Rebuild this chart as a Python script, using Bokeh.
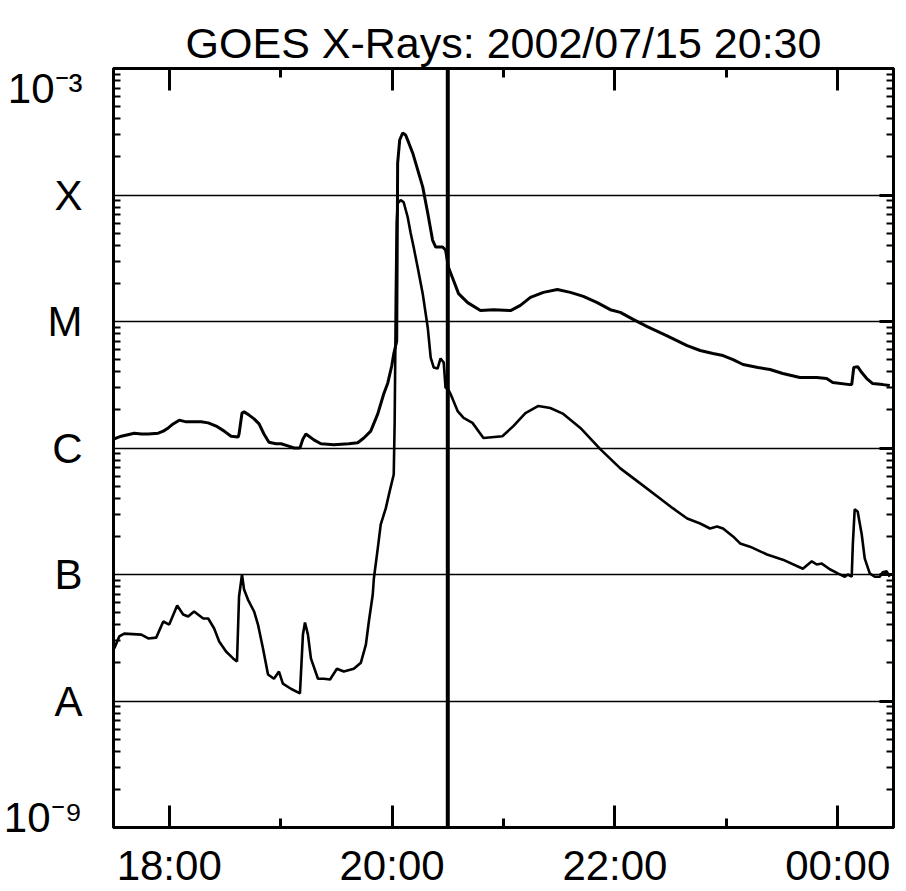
from datetime import datetime, timedelta

from bokeh.plotting import figure
from bokeh.models import (FixedTicker, LogAxis, DatetimeAxis, Span,
                          DatetimeTickFormatter, Range1d)
from bokeh.embed import file_html
from bokeh.resources import INLINE

# ---------------- data ----------------
DAY = datetime(2002, 7, 15)

# GOES long channel (1-8 A), minutes after 2002-07-15 00:00 UT, flux W/m^2
long_minutes = [1050.4, 1054.2, 1061.2, 1065.0, 1068.7, 1074.1, 1076.8, 1079.5, 1082.1, 1085.4,
                1089.1, 1097.2, 1101.0, 1105.3, 1109.6, 1113.3, 1117.1, 1117.6, 1119.2, 1120.3,
                1123.0, 1125.7, 1128.4, 1131.0, 1133.7, 1137.5, 1140.2, 1143.9, 1147.2, 1150.4,
                1152.0, 1153.6, 1157.9, 1161.7, 1168.7, 1176.7, 1181.5, 1184.8, 1188.5, 1192.3,
                1195.5, 1197.7, 1199.8, 1200.9, 1202.5, 1203.0, 1204.1, 1205.7, 1207.3, 1209.0,
                1211.1, 1213.8, 1216.5, 1219.2, 1221.8, 1223.5, 1227.2, 1228.8, 1230.4, 1233.1,
                1235.8, 1240.7, 1247.6, 1254.6, 1263.8, 1269.1, 1274.5, 1281.5, 1289.0, 1296.0,
                1303.0, 1310.5, 1317.5, 1322.9, 1329.8, 1337.4, 1348.1, 1358.9, 1365.9, 1372.8,
                1378.2, 1383.6, 1389.0, 1397.0, 1403.5, 1410.4, 1419.6, 1428.7, 1434.0, 1437.3,
                1446.4, 1447.5, 1448.6, 1450.7, 1452.9, 1455.6, 1458.8, 1464.2, 1468.0]
long_flux = [1.18e-6, 1.24e-6, 1.31e-6, 1.29e-6, 1.29e-6, 1.31e-6, 1.36e-6, 1.44e-6, 1.55e-6, 1.66e-6,
             1.61e-6, 1.61e-6, 1.58e-6, 1.49e-6, 1.36e-6, 1.24e-6, 1.22e-6, 1.29e-6, 1.89e-6, 1.93e-6,
             1.82e-6, 1.70e-6, 1.55e-6, 1.29e-6, 1.11e-6, 1.08e-6, 1.08e-6, 1.04e-6, 1.00e-6, 1.00e-6,
             1.18e-6, 1.29e-6, 1.16e-6, 1.08e-6, 1.06e-6, 1.08e-6, 1.10e-6, 1.20e-6, 1.36e-6, 1.86e-6,
             2.67e-6, 3.27e-6, 4.45e-6, 5.54e-6, 7.0e-6, 1.79e-4, 2.72e-4, 3.09e-4, 2.98e-4, 2.58e-4,
             2.15e-4, 1.58e-4, 1.16e-4, 7.2e-5, 4.4e-5, 3.88e-5, 3.88e-5, 3.67e-5, 2.67e-5, 2.11e-5,
             1.66e-5, 1.41e-5, 1.22e-5, 1.24e-5, 1.22e-5, 1.34e-5, 1.55e-5, 1.70e-5, 1.79e-5, 1.70e-5,
             1.58e-5, 1.41e-5, 1.24e-5, 1.18e-5, 1.04e-5, 9.1e-6, 7.7e-6, 6.45e-6, 5.9e-6, 5.58e-6,
             5.38e-6, 5.0e-6, 4.57e-6, 4.33e-6, 4.17e-6, 3.88e-6, 3.61e-6, 3.61e-6, 3.54e-6, 3.29e-6,
             3.17e-6, 3.17e-6, 4.33e-6, 4.4e-6, 3.95e-6, 3.54e-6, 3.23e-6, 3.17e-6, 3.12e-6]

# GOES short channel (0.5-4 A)
short_minutes = [1050.4, 1053.1, 1055.8, 1065.0, 1068.7, 1073.0, 1076.8, 1080.0, 1084.3, 1087.5,
                 1090.2, 1093.4, 1098.3, 1101.0, 1104.2, 1106.9, 1110.6, 1114.4, 1116.5, 1117.6,
                 1119.2, 1120.3, 1122.4, 1125.7, 1127.8, 1130.5, 1133.2, 1136.4, 1139.1, 1141.2,
                 1145.5, 1150.4, 1152.0, 1153.1, 1154.7, 1156.3, 1160.1, 1163.3, 1166.6, 1170.3,
                 1174.0, 1179.4, 1183.2, 1185.9, 1187.5, 1189.6, 1190.2, 1192.3, 1193.9, 1196.6,
                 1198.7, 1200.9, 1201.4, 1202.0, 1202.5, 1203.0, 1204.6, 1206.2, 1208.4, 1210.0,
                 1211.6, 1213.8, 1216.5, 1219.2, 1220.8, 1222.4, 1224.5, 1226.1, 1227.8, 1228.8,
                 1229.9, 1231.5, 1235.3, 1238.5, 1243.3, 1249.2, 1259.4, 1265.3, 1271.8, 1278.8,
                 1285.2, 1292.2, 1301.4, 1312.1, 1322.9, 1333.6, 1344.3, 1351.3, 1358.9, 1365.9,
                 1371.2, 1375.0, 1378.2, 1383.6, 1387.4, 1392.7, 1401.9, 1410.4, 1421.2, 1426.0,
                 1428.7, 1431.4, 1435.7, 1440.0, 1443.8, 1445.4, 1447.5, 1448.1, 1449.1, 1450.7,
                 1452.9, 1454.5, 1457.2, 1459.9, 1462.6, 1464.2, 1466.3, 1468.0]
short_flux = [2.6e-8, 3.24e-8, 3.41e-8, 3.35e-8, 3.12e-8, 3.17e-8, 4.25e-8, 4.02e-8, 5.69e-8, 4.83e-8,
              4.65e-8, 5.10e-8, 4.49e-8, 4.49e-8, 3.74e-8, 2.95e-8, 2.46e-8, 2.17e-8, 2.05e-8, 6.7e-8,
              1.0e-7, 7.6e-8, 6.34e-8, 5.10e-8, 4.02e-8, 2.6e-8, 1.62e-8, 1.50e-8, 1.71e-8, 1.37e-8,
              1.25e-8, 1.15e-8, 3.35e-8, 4.17e-8, 3.35e-8, 2.17e-8, 1.50e-8, 1.50e-8, 1.48e-8, 1.80e-8,
              1.71e-8, 1.80e-8, 2.01e-8, 2.79e-8, 4.25e-8, 6.95e-8, 9.3e-8, 1.61e-7, 2.49e-7, 3.33e-7,
              4.54e-7, 6.18e-7, 1.62e-6, 1.47e-5, 6.0e-5, 8.6e-5, 9.1e-5, 8.8e-5, 6.7e-5, 5.0e-5,
              3.88e-5, 2.67e-5, 1.66e-5, 8.97e-6, 5.19e-6, 4.33e-6, 4.25e-6, 5.1e-6, 4.74e-6, 2.98e-6,
              2.98e-6, 2.67e-6, 1.96e-6, 1.73e-6, 1.58e-6, 1.20e-6, 1.24e-6, 1.49e-6, 1.89e-6, 2.15e-6,
              2.07e-6, 1.86e-6, 1.44e-6, 0.98e-6, 6.9e-7, 5.25e-7, 3.99e-7, 3.33e-7, 2.77e-7, 2.53e-7,
              2.31e-7, 2.40e-7, 2.31e-7, 2.0e-7, 1.76e-7, 1.66e-7, 1.44e-7, 1.31e-7, 1.11e-7, 1.27e-7,
              1.20e-7, 1.22e-7, 1.10e-7, 1.02e-7, 0.96e-7, 1.0e-7, 0.96e-7, 1.73e-7, 3.27e-7, 3.15e-7,
              2.07e-7, 1.34e-7, 1.02e-7, 0.96e-7, 0.96e-7, 1.04e-7, 1.06e-7, 0.96e-7]

x_start_minutes = 1050      # 17:30
x_end_minutes = 1470        # 00:30 next day
marker_minutes = 1230       # 20:30
hour_major_minutes = [1080, 1200, 1320, 1440]   # 18:00 20:00 22:00 00:00
hour_minor_minutes = [1140, 1260, 1380]         # 19:00 21:00 23:00

# decades (grid lines) and the labels on the left
class_levels = [1e-9, 1e-8, 1e-7, 1e-6, 1e-5, 1e-4, 1e-3]
letter_levels = [1e-8, 1e-7, 1e-6, 1e-5, 1e-4]
letter_labels = ["A", "B", "C", "M", "X"]
power_levels = [1e-3, 1e-9]
power_labels = ["10\u207b\u00b3", "10\u207b\u2079"]
power_label_shift_decades = [-0.16, 0.08]   # where IDL put these two labels

TITLE = "GOES X-Rays: 2002/07/15 20:30"
FONT = "Liberation Sans"

# ---------------- helpers ----------------
EPOCH = datetime(1970, 1, 1)


def to_ms(m):
    return (DAY + timedelta(minutes=m) - EPOCH).total_seconds() * 1000.0


long_t = [to_ms(m) for m in long_minutes]
short_t = [to_ms(m) for m in short_minutes]

minor_y = [k * 10.0 ** e for e in range(-9, -3) for k in range(2, 10)]
x_fmt = DatetimeTickFormatter(hours="%H:%M", minutes="%H:%M", hourmin="%H:%M",
                              days="%H:%M", minsec="%H:%M", seconds="%H:%M")

p = figure(x_axis_type="datetime", y_axis_type="log",
           x_range=Range1d(to_ms(x_start_minutes), to_ms(x_end_minutes)),
           y_range=Range1d(1e-9, 1e-3),
           frame_width=780, frame_height=759,
           min_border_left=113, min_border_right=10,
           min_border_top=68, min_border_bottom=64,
           output_backend="svg", toolbar_location=None,
           background_fill_color="white", border_fill_color="white")

p.title.text = TITLE
p.title.text_font = FONT
p.title.text_font_size = "43px"
p.title.text_font_style = "normal"
p.title.text_color = "black"
p.title.align = "center"
p.title.vertical_align = "top"
p.title.standoff = 0

p.outline_line_color = "black"
p.outline_line_width = 3

p.xgrid.visible = False
p.ygrid.ticker = FixedTicker(ticks=class_levels)
p.ygrid.grid_line_color = "black"
p.ygrid.grid_line_width = 1.6
p.ygrid.grid_line_alpha = 1.0


def style_x(ax):
    ax.ticker = FixedTicker(ticks=[to_ms(m) for m in hour_major_minutes],
                            minor_ticks=[to_ms(m) for m in hour_minor_minutes])
    ax.formatter = x_fmt
    ax.axis_line_width = 3
    ax.axis_line_color = "black"
    ax.major_tick_in = 22
    ax.major_tick_out = 0
    ax.minor_tick_in = 9
    ax.minor_tick_out = 0
    ax.major_tick_line_width = 3
    ax.minor_tick_line_width = 3
    ax.major_tick_line_color = "black"
    ax.minor_tick_line_color = "black"
    ax.major_label_text_font = FONT
    ax.major_label_text_font_size = "42px"
    ax.major_label_text_color = "black"
    ax.major_label_standoff = 14


def style_y(ax, ticks, tick_len):
    ax.ticker = FixedTicker(ticks=ticks, minor_ticks=minor_y)
    ax.axis_line_width = 3
    ax.axis_line_color = "black"
    ax.major_tick_in = tick_len
    ax.major_tick_out = 0
    ax.minor_tick_in = 7
    ax.minor_tick_out = 0
    ax.major_tick_line_width = 3
    ax.minor_tick_line_width = 2
    ax.major_tick_line_color = "black"
    ax.minor_tick_line_color = "black"
    ax.major_label_text_font = FONT
    ax.major_label_text_font_size = "42px"
    ax.major_label_text_color = "black"
    ax.major_label_standoff = 31


# left axis: letter classes on the decades, 10^-3 / 10^-9 placed like IDL did
power_ticks = [lv * 10.0 ** s for lv, s in zip(power_levels, power_label_shift_decades)]
left_ticks = power_ticks[:1] + letter_levels[::-1] + power_ticks[1:]
style_x(p.xaxis[0])
style_y(p.yaxis[0], left_ticks, 0)
overrides = {lv: lb for lv, lb in zip(letter_levels, letter_labels)}
overrides.update({t: lb for t, lb in zip(power_ticks, power_labels)})
p.yaxis[0].major_label_overrides = overrides

# mirrored tick marks on top and right (labels hidden)
top_axis = DatetimeAxis()
style_x(top_axis)
top_axis.major_label_text_alpha = 0
top_axis.major_label_standoff = 0
top_axis.major_label_text_font_size = "4px"
p.add_layout(top_axis, "above")

right_axis = LogAxis()
style_y(right_axis, class_levels, 14)
right_axis.major_label_text_alpha = 0
right_axis.major_label_standoff = 0
right_axis.major_label_text_font_size = "4px"
p.add_layout(right_axis, "right")

# curves
p.line(long_t, long_flux, line_color="black", line_width=3)
p.line(short_t, short_flux, line_color="black", line_width=2.6)

# current-time marker
p.add_layout(Span(location=to_ms(marker_minutes), dimension="height",
                  line_color="black", line_width=4))

open("out.html", "w").write(file_html(p, INLINE))
